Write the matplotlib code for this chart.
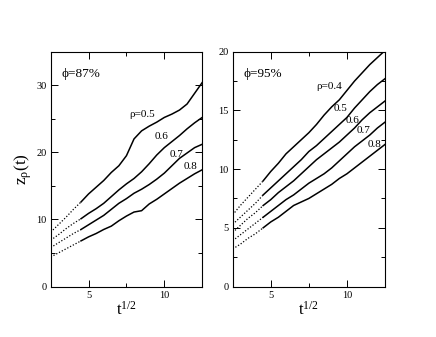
import matplotlib
matplotlib.use("Agg")
import matplotlib.pyplot as plt
from matplotlib.ticker import MultipleLocator

plt.rcParams['font.family'] = ['Liberation Serif', 'DejaVu Serif']
plt.rcParams['mathtext.fontset'] = 'stix'

# ---- data ----
x_vals = [2.5, 3, 3.5, 4, 4.5, 5, 5.5, 6, 6.5, 7, 7.5, 8, 8.5, 9, 9.5, 10,
          10.5, 11, 11.5, 12, 12.5]

# phi = 87%
left_rhos = ["0.5", "0.6", "0.7", "0.8"]
left_05 = [8.1, 9.2, 10.3, 11.5, 12.6, 13.8, 14.8, 15.8, 17.0, 18.0, 19.5, 22.0,
           23.2, 23.9, 24.5, 25.2, 25.7, 26.3, 27.2, 28.8, 30.4]
left_06 = [6.9, 7.7, 8.6, 9.4, 10.1, 10.9, 11.6, 12.4, 13.4, 14.4, 15.3, 16.1,
           17.1, 18.3, 19.6, 20.7, 21.6, 22.5, 23.5, 24.4, 25.2]
left_07 = [5.8, 6.5, 7.2, 7.9, 8.5, 9.2, 9.9, 10.6, 11.5, 12.4, 13.1, 13.9,
           14.5, 15.2, 16.0, 16.9, 18.0, 19.1, 19.9, 20.7, 21.2]
left_08 = [4.4, 5.0, 5.6, 6.2, 6.8, 7.4, 7.9, 8.5, 9.0, 9.8, 10.5, 11.1,
           11.3, 12.3, 13.0, 13.8, 14.6, 15.4, 16.1, 16.8, 17.4]

# phi = 95%
right_rhos = ["0.4", "0.5", "0.6", "0.7", "0.8"]
right_04 = [6.1, 6.9, 7.6, 8.3, 9.0, 9.8, 10.5, 11.3, 11.9, 12.5, 13.1, 13.8,
            14.6, 15.3, 15.9, 16.7, 17.5, 18.2, 18.9, 19.5, 20.1]
right_05 = [5.3, 5.9, 6.5, 7.1, 7.8, 8.4, 9.0, 9.6, 10.2, 10.8, 11.5, 12.0,
            12.6, 13.2, 13.8, 14.4, 15.2, 15.9, 16.6, 17.2, 17.7]
right_06 = [4.6, 5.2, 5.8, 6.3, 6.9, 7.4, 8.0, 8.5, 9.0, 9.6, 10.2, 10.8,
            11.3, 11.8, 12.3, 12.9, 13.5, 14.2, 14.8, 15.3, 15.8]
right_07 = [3.9, 4.4, 4.9, 5.4, 5.9, 6.4, 6.9, 7.4, 7.8, 8.3, 8.8, 9.2,
            9.6, 10.1, 10.7, 11.3, 11.9, 12.4, 12.9, 13.5, 14.0]
right_08 = [3.2, 3.6, 4.1, 4.5, 5.0, 5.5, 5.9, 6.4, 6.9, 7.2, 7.5, 7.9,
            8.3, 8.7, 9.2, 9.6, 10.1, 10.6, 11.1, 11.6, 12.1]

left_series = [left_05, left_06, left_07, left_08]
right_series = [right_04, right_05, right_06, right_07, right_08]

# label positions (data coords)
left_label_pos = [(8.5, 25.7), (9.8, 22.3), (10.8, 19.7), (11.7, 17.9)]
right_label_pos = [(8.8, 17.0), (9.6, 15.2), (10.4, 14.1), (11.1, 13.3), (11.8, 12.1)]

DOT_END = 4.5

fig = plt.figure(figsize=(4.36, 3.37), dpi=100)
axL = fig.add_axes([50.7/436, 1-286.5/337, 151.5/436, 234.8/337])
axR = fig.add_axes([232.7/436, 1-286.5/337, 152.3/436, 234.8/337])


def draw(ax, series):
    for ys in series:
        xd = [x for x in x_vals if x <= DOT_END]
        yd = [y for x, y in zip(x_vals, ys) if x <= DOT_END]
        xs = [x for x in x_vals if x >= DOT_END]
        ysol = [y for x, y in zip(x_vals, ys) if x >= DOT_END]
        ax.plot(xd, yd, color='black', lw=0.9, linestyle=(0, (1, 1.5)))
        ax.plot(xs, ysol, color='black', lw=1.1, solid_joinstyle='round')


def style(ax, ymax, ymaj, ymin):
    ax.set_xlim(2.5, 12.5)
    ax.set_ylim(0, ymax)
    ax.xaxis.set_major_locator(MultipleLocator(5))
    ax.xaxis.set_minor_locator(MultipleLocator(2.5))
    ax.yaxis.set_major_locator(MultipleLocator(ymaj))
    ax.yaxis.set_minor_locator(MultipleLocator(ymin))
    ax.tick_params(which='both', direction='in', top=True, right=True,
                   labelsize=7.5, width=0.7, pad=3)
    ax.tick_params(which='major', length=5)
    ax.tick_params(which='minor', length=3)
    for s in ax.spines.values():
        s.set_linewidth(0.8)
    ax.set_xlabel(r'$\mathregular{t^{1/2}}$', fontsize=12, labelpad=1)


draw(axL, left_series)
style(axL, 35, 10, 5)
draw(axR, right_series)
style(axR, 20, 5, 2.5)

for i, (lab, (x, y)) in enumerate(zip(left_rhos, left_label_pos)):
    txt = "ρ=" + lab if i == 0 else lab
    axL.text(x, y, txt, fontsize=8, ha='center', va='center')
for i, (lab, (x, y)) in enumerate(zip(right_rhos, right_label_pos)):
    txt = "ρ=" + lab if i == 0 else lab
    axR.text(x, y, txt, fontsize=8, ha='center', va='center')

axL.text(0.07, 0.905, "ϕ=87%", transform=axL.transAxes, fontsize=9.5,
         ha='left', va='center')
axR.text(0.07, 0.905, "ϕ=95%", transform=axR.transAxes, fontsize=9.5,
         ha='left', va='center')

axL.set_ylabel(r'$\mathregular{z_{\rho}(t)}$', fontsize=12.5, labelpad=2)

fig.savefig("out.png", dpi=100)
